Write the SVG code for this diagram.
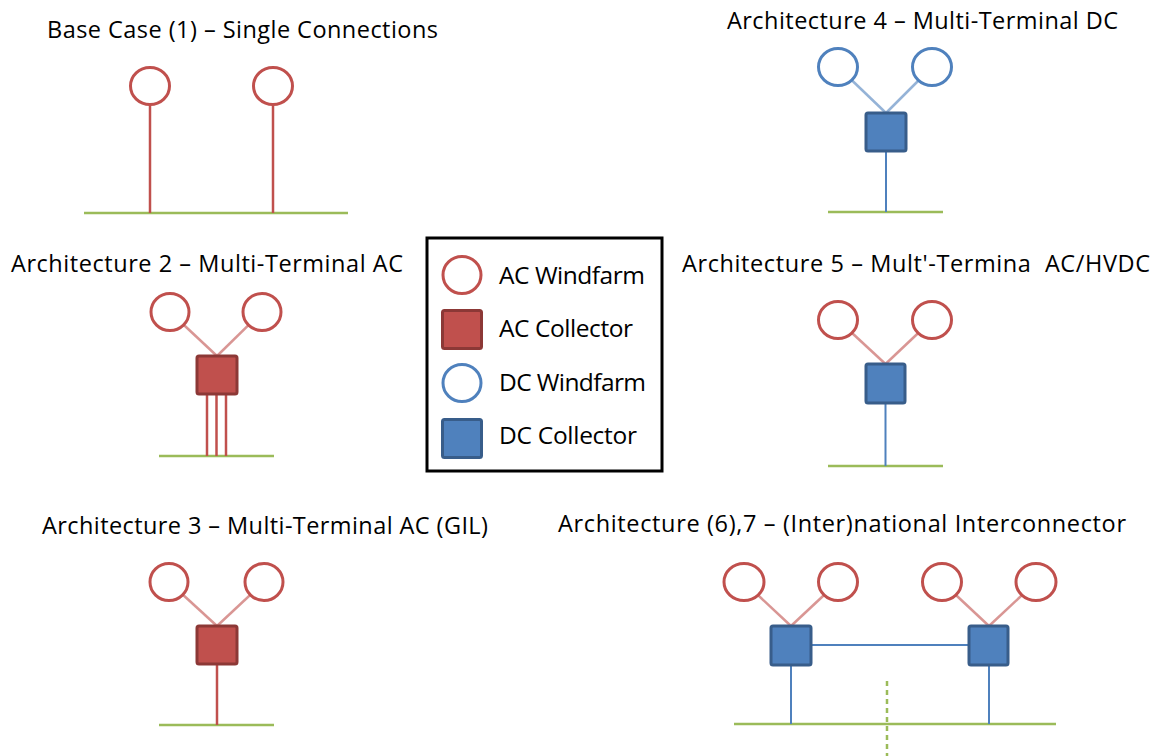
<svg xmlns="http://www.w3.org/2000/svg" width="1162" height="756" viewBox="0 0 1162 756">
  <style>
    .title { font-family: "Open Sans", "Liberation Sans", Arial, sans-serif; font-size: 23.5px; fill: #000; }
    .legtext { font-family: "Open Sans", "Liberation Sans", Arial, sans-serif; font-size: 24.5px; fill: #000; }
    .acwf { fill: #fff; stroke: #c0504d; stroke-width: 3; }
    .dcwf { fill: #fff; stroke: #4f81bd; stroke-width: 3; }
    .accol { fill: #c0504d; stroke: #8c3836; stroke-width: 3; }
    .dccol { fill: #4f81bd; stroke: #385d8a; stroke-width: 3; }
    .bus { stroke: #9bbb59; stroke-width: 2.5; fill: none; }
    .border { stroke: #9bbb59; stroke-width: 2.5; stroke-dasharray: 5 4; fill: none; }
    .feed-ac { stroke: #d99694; stroke-width: 2.5; fill: none; }
    .feed-dc { stroke: #95b3d7; stroke-width: 2.5; fill: none; }
    .cable-ac { stroke: #c0504d; stroke-width: 2.5; fill: none; }
    .cable-dc { stroke: #4f81bd; stroke-width: 2; fill: none; }
  </style>

  <rect width="1162" height="756" fill="#fff"/>

  <!-- Titles -->
  <g id="titles">
    <text class="title" x="47" y="38" textLength="391">Base Case (1) – Single Connections</text>
    <text class="title" x="727" y="29" textLength="391">Architecture 4 – Multi-Terminal DC</text>
    <text class="title" x="11" y="272" textLength="392">Architecture 2 – Multi-Terminal AC</text>
    <text class="title" x="682" y="272" textLength="468" xml:space="preserve">Architecture 5 – Mult'-Termina  AC/HVDC</text>
    <text class="title" x="42" y="534" textLength="446">Architecture 3 – Multi-Terminal AC (GIL)</text>
    <text class="title" x="558" y="532" textLength="568">Architecture (6),7 – (Inter)national Interconnector</text>
  </g>

  <!-- Buses (shore grid lines) -->
  <g id="buses">
    <line class="bus" x1="84" y1="213" x2="348" y2="213"/>
    <line class="bus" x1="828" y1="212" x2="943" y2="212"/>
    <line class="bus" x1="159" y1="456" x2="274" y2="456"/>
    <line class="bus" x1="828" y1="466" x2="943" y2="466"/>
    <line class="bus" x1="159" y1="725" x2="274" y2="725"/>
    <line class="bus" x1="734" y1="724" x2="1056" y2="724"/>
  </g>

  <!-- Connectors -->
  <g id="connectors">
    <!-- base case: single cables -->
    <line class="cable-ac" x1="150" y1="104" x2="150" y2="213"/>
    <line class="cable-ac" x1="273" y1="104" x2="273" y2="213"/>
    <!-- architecture 4 -->
    <line class="feed-dc" x1="838" y1="67" x2="886" y2="113"/>
    <line class="feed-dc" x1="932" y1="67" x2="886" y2="113"/>
    <line class="cable-dc" x1="886" y1="151" x2="886" y2="212"/>
    <!-- architecture 2 -->
    <line class="feed-ac" x1="170" y1="312" x2="217" y2="356"/>
    <line class="feed-ac" x1="262" y1="312" x2="217" y2="356"/>
    <line class="cable-ac" x1="207" y1="394" x2="207" y2="456"/>
    <line class="cable-ac" x1="216.5" y1="394" x2="216.5" y2="456"/>
    <line class="cable-ac" x1="226" y1="394" x2="226" y2="456"/>
    <!-- architecture 5 -->
    <line class="feed-ac" x1="838" y1="320" x2="885.5" y2="364"/>
    <line class="feed-ac" x1="932" y1="320" x2="885.5" y2="364"/>
    <line class="cable-dc" x1="885.5" y1="403" x2="885.5" y2="466"/>
    <!-- architecture 3 -->
    <line class="feed-ac" x1="169" y1="582" x2="217" y2="626"/>
    <line class="feed-ac" x1="264" y1="582" x2="217" y2="626"/>
    <line class="cable-ac" x1="217" y1="664" x2="217" y2="725"/>
    <!-- architecture 6,7 -->
    <line class="feed-ac" x1="744" y1="582" x2="791" y2="626"/>
    <line class="feed-ac" x1="838" y1="582" x2="791" y2="626"/>
    <line class="feed-ac" x1="942" y1="582" x2="989" y2="626"/>
    <line class="feed-ac" x1="1036" y1="582" x2="989" y2="626"/>
    <line class="cable-dc" x1="811" y1="645" x2="969" y2="645"/>
    <line class="cable-dc" x1="791" y1="665" x2="791" y2="724"/>
    <line class="cable-dc" x1="989" y1="665" x2="989" y2="724"/>
    <line class="border" x1="887" y1="681" x2="887" y2="756"/>
  </g>

  <!-- Base case nodes -->
  <g id="base-wf1"><ellipse class="acwf" cx="150" cy="86" rx="19.5" ry="18.5"/></g>
  <g id="base-wf2"><ellipse class="acwf" cx="273" cy="86" rx="19.5" ry="18.5"/></g>

  <!-- Architecture 4 nodes -->
  <g id="a4-wf1"><ellipse class="dcwf" cx="838" cy="67" rx="19.5" ry="18.5"/></g>
  <g id="a4-wf2"><ellipse class="dcwf" cx="932" cy="67" rx="19.5" ry="18.5"/></g>
  <g id="a4-collector"><rect class="dccol" x="866" y="113" width="40" height="38" rx="2"/></g>

  <!-- Architecture 2 nodes -->
  <g id="a2-wf1"><ellipse class="acwf" cx="170" cy="312" rx="19" ry="18.5"/></g>
  <g id="a2-wf2"><ellipse class="acwf" cx="262" cy="312" rx="19" ry="18.5"/></g>
  <g id="a2-collector"><rect class="accol" x="197" y="356" width="40" height="38" rx="2"/></g>

  <!-- Architecture 5 nodes -->
  <g id="a5-wf1"><ellipse class="acwf" cx="838" cy="320" rx="19.5" ry="18.5"/></g>
  <g id="a5-wf2"><ellipse class="acwf" cx="932" cy="320" rx="19.5" ry="18.5"/></g>
  <g id="a5-collector"><rect class="dccol" x="866" y="364" width="39" height="39" rx="2"/></g>

  <!-- Architecture 3 nodes -->
  <g id="a3-wf1"><ellipse class="acwf" cx="169" cy="582" rx="19" ry="18.5"/></g>
  <g id="a3-wf2"><ellipse class="acwf" cx="264" cy="582" rx="19" ry="18.5"/></g>
  <g id="a3-collector"><rect class="accol" x="197" y="626" width="40" height="38" rx="2"/></g>

  <!-- Architecture 6,7 nodes -->
  <g id="a67-wf1"><ellipse class="acwf" cx="744" cy="582" rx="20" ry="18.5"/></g>
  <g id="a67-wf2"><ellipse class="acwf" cx="838" cy="582" rx="19.5" ry="18.5"/></g>
  <g id="a67-wf3"><ellipse class="acwf" cx="942" cy="582" rx="19.5" ry="18.5"/></g>
  <g id="a67-wf4"><ellipse class="acwf" cx="1036" cy="582" rx="20" ry="18.5"/></g>
  <g id="a67-collector1"><rect class="dccol" x="771" y="626" width="40" height="39" rx="2"/></g>
  <g id="a67-collector2"><rect class="dccol" x="969" y="626" width="39" height="39" rx="2"/></g>

  <!-- Legend -->
  <g id="legend">
    <rect x="427" y="238" width="235" height="233" fill="#fff" stroke="#000" stroke-width="3"/>
    <ellipse class="acwf" cx="462" cy="275" rx="19" ry="18.5"/>
    <rect class="accol" x="442.5" y="310.5" width="39" height="38" rx="2"/>
    <ellipse class="dcwf" cx="462" cy="383" rx="19" ry="18.5"/>
    <rect class="dccol" x="442.5" y="419.5" width="39" height="38" rx="2"/>
    <text class="legtext" x="499" y="284" textLength="146">AC Windfarm</text>
    <text class="legtext" x="499" y="337" textLength="134">AC Collector</text>
    <text class="legtext" x="499" y="391" textLength="147">DC Windfarm</text>
    <text class="legtext" x="499" y="444" textLength="138">DC Collector</text>
  </g>
</svg>
